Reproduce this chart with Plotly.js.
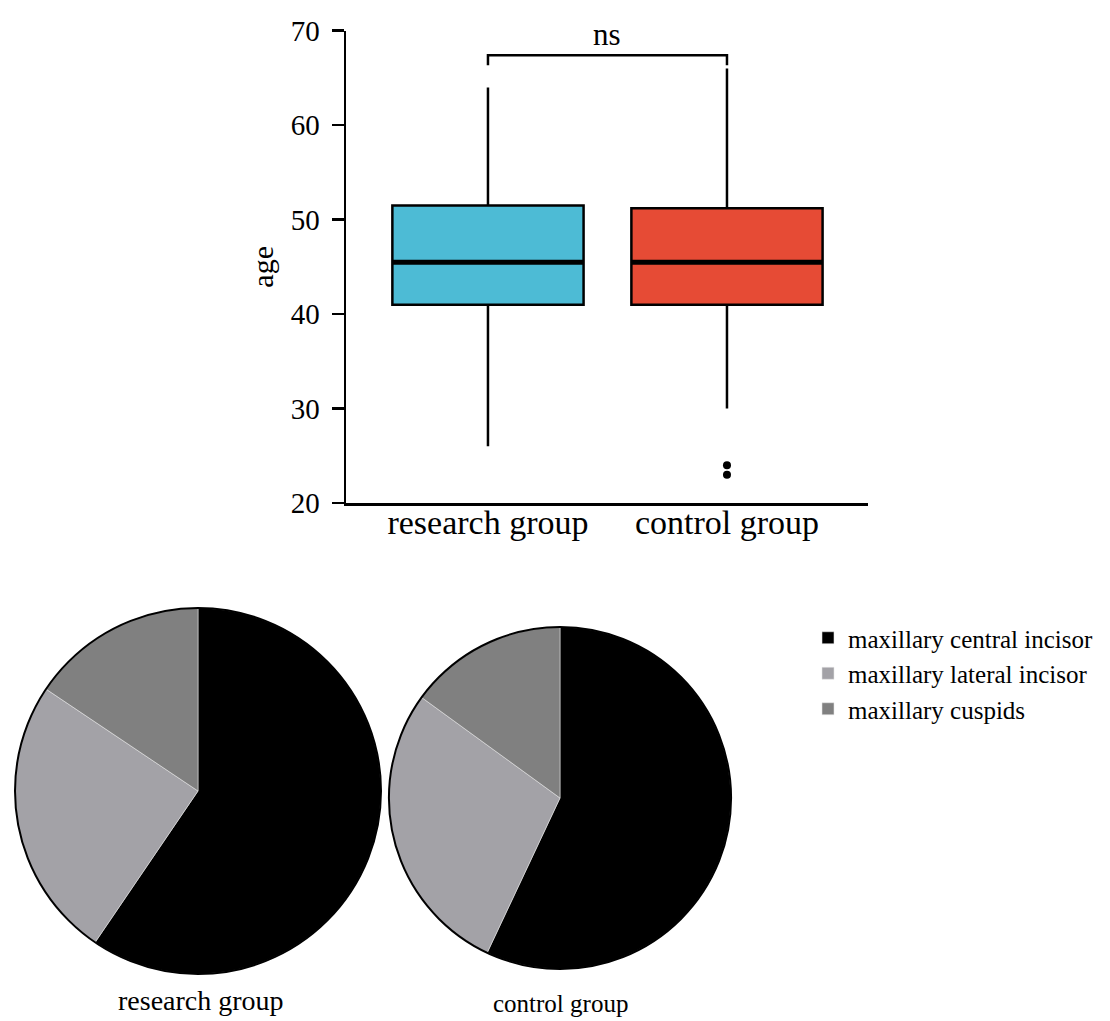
<!DOCTYPE html>
<html>
<head>
<meta charset="utf-8">
<script src="https://cdn.plot.ly/plotly-3.0.1.min.js"></script>
<style>html,body{margin:0;padding:0;background:#fff;}#chart{width:1110px;height:1021px;}</style>
</head>
<body>
<div id="chart"></div>
<script>
// ---- data ----
const groups = ['research group', 'control group'];
const q1 = [41.0, 41.0];
const median = [45.5, 45.5];
const q3 = [51.5, 51.2];
const lowerFence = [26, 30];
const upperFence = [64, 66];
const outlierGroup = ['control group', 'control group'];
const outlierAge = [24, 23];
const boxColors = ['#4DBBD5', '#E64B35'];
const sigLabel = 'ns';
const bracketTop = 67.4;
const bracketLegEnd = 66.35;

const toothTypes = ['maxillary central incisor', 'maxillary lateral incisor', 'maxillary cuspids'];
const researchShares = [59.5, 24.9, 15.6];
const controlShares = [57.0, 28.0, 15.0];
const sliceColors = ['#000000', '#a3a2a7', '#808080'];
const pieTitles = ['research group', 'control group'];

// ---- drawing ----
const FONT = 'Liberation Serif, Times New Roman, serif';
const W = 1110, H = 1021;
const px = v => v / W;
const py = v => 1 - v / H;
const boxWidth = 0.8;

const traces = [];
groups.forEach((g, i) => {
  traces.push({
    type: 'box', x: [g], q1: [q1[i]], median: [median[i]], q3: [q3[i]],
    lowerfence: [lowerFence[i]], upperfence: [upperFence[i]],
    fillcolor: boxColors[i], line: {color: '#000', width: 2.5},
    whiskerwidth: 0, width: boxWidth, boxpoints: false,
    showlegend: false, xaxis: 'x', yaxis: 'y', hoverinfo: 'y'
  });
});
traces.push({
  type: 'scatter', mode: 'markers', x: outlierGroup, y: outlierAge,
  marker: {color: '#000', size: 8}, showlegend: false, xaxis: 'x', yaxis: 'y'
});

const pieDomains = [
  {x: [px(15), px(381)], y: [py(974), py(608)]},
  {x: [px(389), px(731)], y: [py(969), py(627)]}
];
const shares = [researchShares, controlShares];
shares.forEach((vals, i) => {
  traces.push({
    type: 'pie', labels: toothTypes, values: vals, domain: pieDomains[i],
    marker: {colors: sliceColors, line: {color: 'rgba(230,230,230,0.7)', width: 0.8}},
    textinfo: 'none', sort: false, direction: 'clockwise', rotation: 0,
    showlegend: i === 0, name: pieTitles[i]
  });
  // outline ring drawn on top
  traces.push({
    type: 'pie', labels: ['outline' + i], values: [1], domain: pieDomains[i],
    marker: {colors: ['rgba(0,0,0,0)'], line: {color: '#000', width: 2}},
    textinfo: 'none', hoverinfo: 'skip', showlegend: false, sort: false
  });
});

const shapes = [];
median.forEach((m, i) => {
  shapes.push({type: 'line', xref: 'x', yref: 'y', x0: i - boxWidth / 2, x1: i + boxWidth / 2,
    y0: m, y1: m, line: {color: '#000', width: 5}});
});
shapes.push({type: 'path', xref: 'x', yref: 'y',
  path: `M 0 ${bracketLegEnd} L 0 ${bracketTop} L 1 ${bracketTop} L 1 ${bracketLegEnd}`,
  line: {color: '#000', width: 2.5}});

const annotations = [
  {text: sigLabel, xref: 'x', yref: 'y', x: 0.5, y: bracketTop, yanchor: 'bottom', yshift: 1,
   showarrow: false, font: {family: FONT, size: 31, color: '#000'}},
  {text: pieTitles[0], xref: 'paper', yref: 'paper', x: px(201), y: py(1000), xanchor: 'center', yanchor: 'middle',
   showarrow: false, font: {family: FONT, size: 28, color: '#000'}},
  {text: pieTitles[1], xref: 'paper', yref: 'paper', x: px(560), y: py(1003), xanchor: 'center', yanchor: 'middle',
   showarrow: false, font: {family: FONT, size: 25, color: '#000'}}
];

const layout = {
  width: W, height: H,
  margin: {l: 0, r: 0, t: 0, b: 0},
  paper_bgcolor: '#fff', plot_bgcolor: '#fff',
  font: {family: FONT, color: '#000'},
  xaxis: {
    domain: [px(346), px(868)], anchor: 'y', type: 'category', categoryorder: 'array', categoryarray: groups,
    range: [-0.594, 1.59], showline: true, linecolor: '#000', linewidth: 2.5,
    ticks: '', showgrid: false, zeroline: false, tickfont: {family: FONT, size: 34},
    ticklabelstandoff: -12
  },
  yaxis: {
    domain: [py(503), py(30.7)], anchor: 'x', range: [20, 70], tickvals: [20, 30, 40, 50, 60, 70],
    showline: true, linecolor: '#000', linewidth: 2.5, ticks: 'outside', ticklen: 12, tickwidth: 2.5,
    tickcolor: '#000', showgrid: false, zeroline: false, tickfont: {family: FONT, size: 29},
    ticklabelstandoff: 6,
    title: {text: 'age', font: {family: FONT, size: 30}, standoff: 8}
  },
  showlegend: true,
  legend: {x: px(808), y: py(615), xanchor: 'left', yanchor: 'top', font: {family: FONT, size: 25},
    bgcolor: 'rgba(0,0,0,0)', traceorder: 'normal', tracegroupgap: 0},
  shapes: shapes,
  annotations: annotations
};

Plotly.newPlot('chart', traces, layout, {displayModeBar: false, staticPlot: true});
</script>
</body>
</html>
